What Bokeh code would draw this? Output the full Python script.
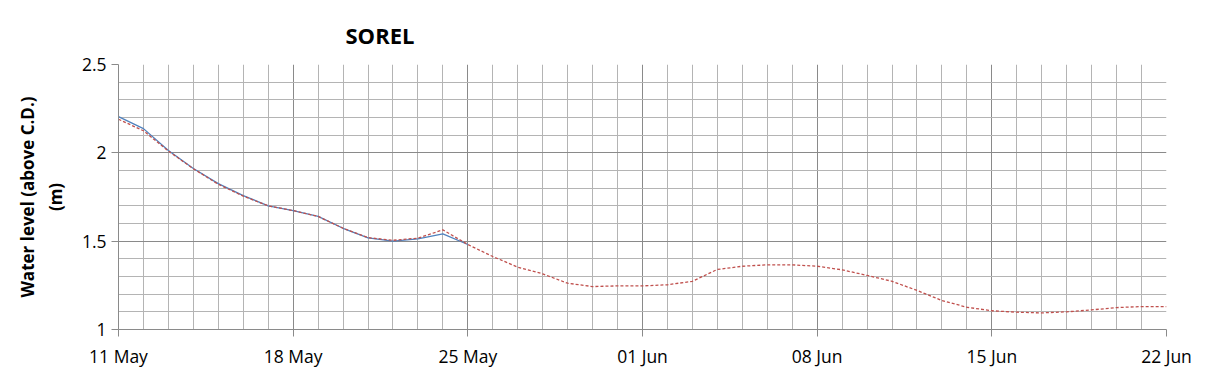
import pandas as pd
from bokeh.plotting import figure
from bokeh.models import FixedTicker, DatetimeTickFormatter, Range1d
from bokeh.embed import file_html
from bokeh.resources import INLINE

# ---- data ----
dates = pd.date_range("2023-05-11", "2023-06-22", freq="D")
observed = [2.205, 2.137, 2.013, 1.911, 1.826, 1.758, 1.700, 1.673, 1.640,
            1.573, 1.519, 1.500, 1.513, 1.541, 1.481]
predicted = [2.190, 2.125, 2.010, 1.910, 1.822, 1.755, 1.700, 1.673, 1.640,
             1.573, 1.520, 1.505, 1.517, 1.564, 1.481, 1.413, 1.353, 1.315,
             1.262, 1.243, 1.247, 1.247, 1.253, 1.273, 1.340, 1.358, 1.366,
             1.366, 1.358, 1.338, 1.306, 1.273, 1.221, 1.164, 1.126, 1.106,
             1.098, 1.094, 1.100, 1.111, 1.124, 1.130, 1.130]
week_ticks = ["2023-05-11", "2023-05-18", "2023-05-25", "2023-06-01",
              "2023-06-08", "2023-06-15", "2023-06-22"]
y_ticks = [1, 1.5, 2, 2.5]
y_minor = [1.1, 1.2, 1.3, 1.4, 1.6, 1.7, 1.8, 1.9, 2.1, 2.2, 2.3, 2.4]

FONT = "Open Sans"

p = figure(width=1209, height=378, output_backend="svg", toolbar_location=None,
           x_axis_type="datetime",
           min_border_left=118, min_border_right=43, min_border_top=64,
           min_border_bottom=49)
p.x_range = Range1d(dates[0], dates[-1])
p.y_range = Range1d(1, 2.5)
p.outline_line_color = None
p.background_fill_color = "white"

# title
p.title.text = "SOREL"
p.title.text_font = FONT
p.title.text_font_size = "22px"
p.title.text_font_style = "bold"
p.title.text_color = "black"
p.title.align = "left"
p.title.offset = 227
p.title.standoff = 30

# tickers
to_ms = lambda d: pd.Timestamp(d).value // 10**6
xt = [to_ms(d) for d in week_ticks]
xminor = [to_ms(d) for d in dates if to_ms(d) not in xt]
p.xaxis.ticker = FixedTicker(ticks=xt, minor_ticks=xminor)
p.xaxis.formatter = DatetimeTickFormatter(days="%d %b", months="%d %b")
p.yaxis.ticker = FixedTicker(ticks=y_ticks, minor_ticks=y_minor)
p.yaxis.major_label_overrides = {1: "1", 1.5: "1.5", 2: "2", 2.5: "2.5"}

# grids
for g in (p.xgrid, p.ygrid):
    g.grid_line_color = "#8a8a8a"
    g.grid_line_width = 1
    g.minor_grid_line_color = "#b4b4b4"
    g.minor_grid_line_width = 1

# axes
for ax in (p.xaxis, p.yaxis):
    ax.axis_line_color = "#8a8a8a"
    ax.major_tick_line_color = "#8a8a8a"
    ax.minor_tick_line_color = None
    ax.major_tick_in = 0
    ax.major_tick_out = 7
    ax.major_label_text_font = FONT
    ax.major_label_text_font_size = "17.5px"
    ax.major_label_text_color = "black"
p.xaxis.major_label_standoff = 7
p.yaxis.major_label_standoff = 5

p.yaxis.axis_label = "Water level (above C.D.)\n(m)"
p.yaxis.axis_label_text_font = FONT
p.yaxis.axis_label_text_font_size = "17px"
p.yaxis.axis_label_text_font_style = "bold"
p.yaxis.axis_label_text_color = "black"
p.yaxis.axis_label_standoff = 12

# series
p.line(dates[:len(observed)], observed, line_color="#4f81bd", line_width=1.3)
p.line(dates, predicted, line_color="#c0504d", line_width=1.3, line_dash="3 2")

open("out.html", "w").write(file_html(p, INLINE))
